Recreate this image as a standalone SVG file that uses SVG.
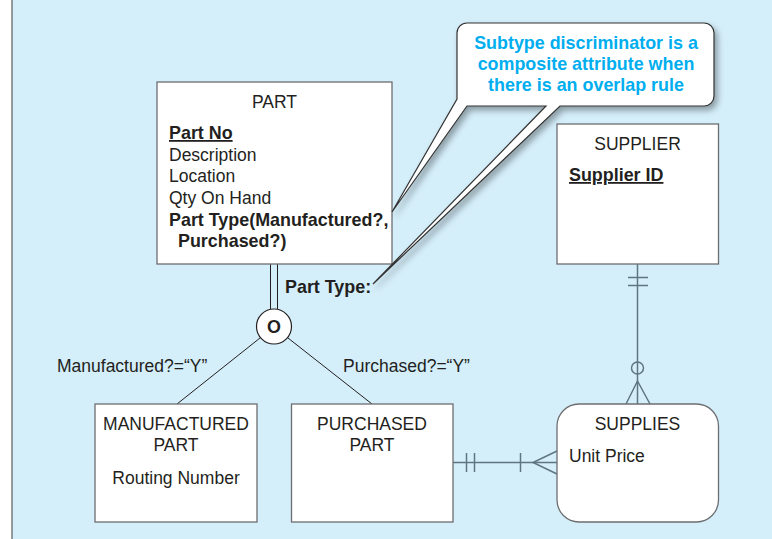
<svg xmlns="http://www.w3.org/2000/svg" width="772" height="539" viewBox="0 0 772 539">
<defs>
<style>
.t{font-family:"Liberation Sans",Arial,sans-serif;font-size:17.5px;fill:#231f20}
.b{font-weight:bold;font-size:17.9px}
.c{text-anchor:middle}
.ent{fill:#fff;stroke:#6d6e71;stroke-width:1.3}
.rel{fill:none;stroke:#5f7581;stroke-width:1.5}
.sub{fill:none;stroke:#231f20;stroke-width:1}
.note{font-family:"Liberation Sans",Arial,sans-serif;font-size:17.9px;font-weight:bold;fill:#00aeef;text-anchor:middle}
</style>
<filter id="sh" x="-20%" y="-20%" width="150%" height="150%">
<feDropShadow dx="3" dy="4" stdDeviation="3" flood-color="#000" flood-opacity="0.35"/>
</filter>
</defs>
<rect x="0" y="0" width="772" height="539" fill="#fff"/>
<rect x="12" y="0" width="760" height="539" fill="#d4eefa"/>
<line x1="12" y1="0" x2="12" y2="539" stroke="#666" stroke-width="1.3"/>

<g id="connectors">
<line class="sub" x1="270.5" y1="264" x2="270.5" y2="309"/>
<line class="sub" x1="277.5" y1="264" x2="277.5" y2="309"/>
<line class="sub" x1="260" y1="338" x2="177" y2="404"/>
<line class="sub" x1="288" y1="338" x2="372" y2="404"/>
<line class="rel" x1="637.5" y1="264" x2="637.5" y2="404"/>
<line class="rel" x1="628" y1="277.5" x2="648" y2="277.5"/>
<line class="rel" x1="628" y1="285.5" x2="648" y2="285.5"/>
<circle class="rel" cx="637.5" cy="368" r="6" fill="#d4eefa"/>
<polyline class="rel" points="626,404 637.5,381 650,404"/>
<line class="rel" x1="453" y1="462.5" x2="557" y2="462.5"/>
<line class="rel" x1="466.5" y1="453" x2="466.5" y2="472"/>
<line class="rel" x1="474.5" y1="453" x2="474.5" y2="472"/>
<line class="rel" x1="520.5" y1="453" x2="520.5" y2="472"/>
<polyline class="rel" points="557,451 533,462.5 557,474"/>
</g>

<g id="part">
<rect class="ent" x="157" y="82" width="235" height="182"/>
<text class="t c" x="274.5" y="108">PART</text>
<text class="t b" x="169" y="139" text-decoration="underline">Part No</text>
<text class="t" x="169" y="161">Description</text>
<text class="t" x="169" y="182">Location</text>
<text class="t" x="169" y="204">Qty On Hand</text>
<text class="t b" x="169" y="226">Part Type(Manufactured?,</text>
<text class="t b" x="178" y="247">Purchased?)</text>
</g>

<g id="discriminator">
<text class="t b" x="285" y="293">Part Type:</text>
</g>

<g id="overlap">
<circle cx="274" cy="326.5" r="17.5" fill="#fff" stroke="#231f20" stroke-width="1.2"/>
<text class="t b c" x="274" y="333">O</text>
</g>

<g id="labels">
<text class="t" x="57" y="372">Manufactured?=“Y”</text>
<text class="t" x="343" y="372">Purchased?=“Y”</text>
</g>

<g id="manufactured-part">
<rect class="ent" x="95" y="404" width="162" height="118"/>
<text class="t c" x="176" y="430">MANUFACTURED</text>
<text class="t c" x="176" y="451">PART</text>
<text class="t c" x="176" y="484">Routing Number</text>
</g>

<g id="purchased-part">
<rect class="ent" x="291.5" y="404" width="161.5" height="118"/>
<text class="t c" x="372" y="430">PURCHASED</text>
<text class="t c" x="372" y="451">PART</text>
</g>

<g id="supplier">
<rect class="ent" x="557" y="124" width="161.5" height="140"/>
<text class="t c" x="637.5" y="150">SUPPLIER</text>
<text class="t b" x="569" y="181" text-decoration="underline">Supplier ID</text>
</g>

<g id="supplies">
<rect class="ent" x="557" y="404" width="161.5" height="118" rx="22" ry="22"/>
<text class="t c" x="637.5" y="430">SUPPLIES</text>
<text class="t" x="569" y="462">Unit Price</text>
</g>

<g id="callout">
<path d="M467,23 H704 A10,10 0 0 1 714,33 V96 A10,10 0 0 1 704,106 H560 L373,284 L546,106 H467 L392,212 L457,99 V33 A10,10 0 0 1 467,23 Z" fill="#fff" stroke="#333" stroke-width="1.2" filter="url(#sh)"/>
<text class="note" x="586" y="48.5">Subtype discriminator is a</text>
<text class="note" x="586" y="70">composite attribute when</text>
<text class="note" x="586" y="91">there is an overlap rule</text>
</g>
</svg>
